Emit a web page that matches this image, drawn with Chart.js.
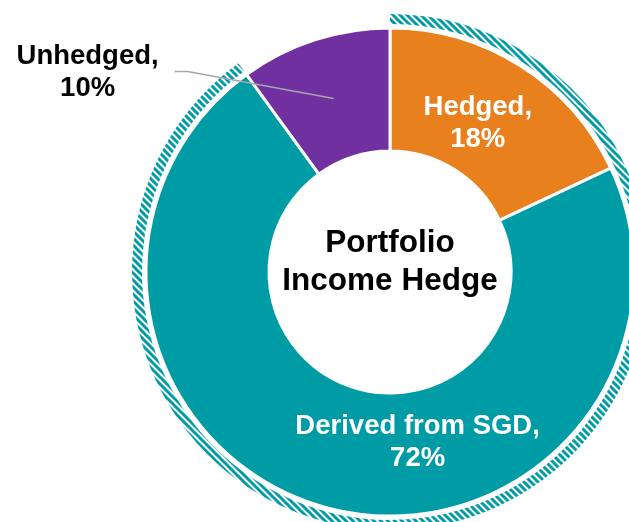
<!DOCTYPE html>
<html>
<head>
<meta charset="utf-8">
<script src="https://cdn.jsdelivr.net/npm/chart.js@4.4.0/dist/chart.umd.min.js"></script>
<style>
    html, body { margin: 0; padding: 0; overflow: hidden; background: #fff; }
    #wrap { width: 629px; height: 522px; overflow: hidden; position: relative; }
    #hedgeChart { position: absolute; left: 0; top: 0; }
</style>
</head>
<body>
<div id="wrap"><canvas id="hedgeChart" width="780" height="544"></canvas></div>
<script>
// Data
const segmentLabels = ['Hedged', 'Derived from SGD', 'Unhedged'];
const segmentShares = [18, 72, 10];
const segmentColors = ['#E8801E', '#009CA6', '#7030A0'];
const centerTitle = ['Portfolio', 'Income Hedge'];

document.addEventListener('DOMContentLoaded', function() {
    // diagonal hatch used for the outer band
    function makeHatch(color) {
        const tile = document.createElement('canvas');
        tile.width = 7;
        tile.height = 7;
        const t = tile.getContext('2d');
        t.strokeStyle = color;
        t.lineWidth = 3;
        t.beginPath();
        t.moveTo(-2, -2); t.lineTo(9, 9);
        t.moveTo(-9, -2); t.lineTo(2, 9);
        t.moveTo(5, -2); t.lineTo(16, 9);
        t.stroke();
        return t.createPattern(tile, 'repeat');
    }
    const hatch = makeHatch('#009CA6');

    const outerR = 258;
    const innerR = 121;

    // label placement relative to each arc's centre point
    const labelShift = [[-10, 6], [73, -6], [-246, -26]];
    const labelInside = [true, true, false];

    const labelPlugin = {
        id: 'sliceLabels',
        afterDatasetsDraw(chart) {
            const ctx = chart.ctx;
            const meta = chart.getDatasetMeta(2);
            ctx.save();
            ctx.textAlign = 'center';
            ctx.textBaseline = 'middle';
            ctx.font = 'bold 27.5px "Liberation Sans", Arial, sans-serif';
            meta.data.forEach(function(arc, i) {
                const p = arc.getCenterPoint();
                const x = p.x + labelShift[i][0];
                const y = p.y + labelShift[i][1];
                if (!labelInside[i]) {
                    // leader line
                    ctx.strokeStyle = '#A6A6A6';
                    ctx.lineWidth = 1.5;
                    ctx.beginPath();
                    ctx.moveTo(x + 87, y - 1);
                    ctx.lineTo(x + 100, y - 1);
                    ctx.lineTo(p.x, p.y);
                    ctx.stroke();
                }
                ctx.fillStyle = labelInside[i] ? '#FFFFFF' : '#000000';
                ctx.fillText(segmentLabels[i] + ',', x, y - 16);
                ctx.fillText(segmentShares[i] + '%', x, y + 16);
            });
            // centre title
            const c = meta.data[0];
            ctx.fillStyle = '#000000';
            ctx.font = 'bold 31.5px "Liberation Sans", Arial, sans-serif';
            ctx.fillText(centerTitle[0], c.x, c.y - 29);
            ctx.fillText(centerTitle[1], c.x, c.y + 9);
            ctx.restore();
        }
    };

    new Chart(document.getElementById('hedgeChart').getContext('2d'), {
        type: 'doughnut',
        data: {
            labels: segmentLabels,
            datasets: [{
                // hatched band around hedged + SGD part
                data: segmentShares,
                backgroundColor: [hatch, hatch, 'rgba(0,0,0,0)'],
                borderWidth: 0,
                weight: 10
            }, {
                data: segmentShares,
                backgroundColor: 'rgba(0,0,0,0)',
                borderWidth: 0,
                weight: 4
            }, {
                data: segmentShares,
                backgroundColor: segmentColors,
                borderColor: '#FFFFFF',
                borderWidth: 3,
                weight: outerR - innerR - 14
            }]
        },
        options: {
            responsive: false,
            devicePixelRatio: 1,
            animation: false,
            radius: outerR,
            cutout: (innerR / outerR * 100) + '%',
            layout: { padding: 0 },
            plugins: {
                legend: { display: false },
                tooltip: { enabled: false }
            }
        },
        plugins: [labelPlugin]
    });
});
</script>
</body>
</html>
